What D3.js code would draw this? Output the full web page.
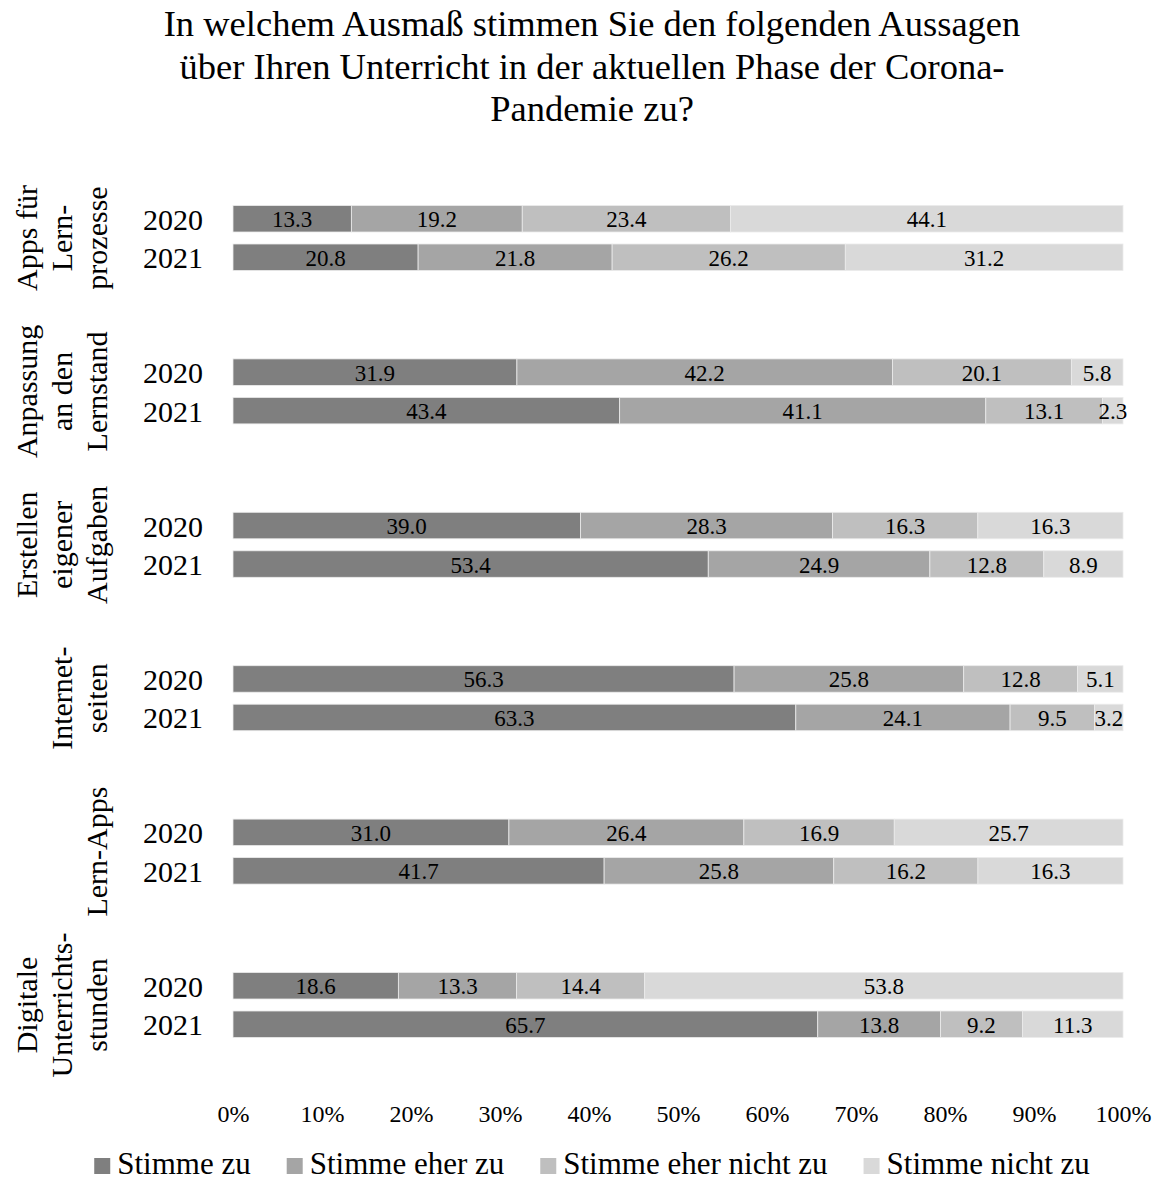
<!DOCTYPE html>
<html>
<head>
<meta charset="utf-8">
<script src="https://cdn.jsdelivr.net/npm/d3@7/dist/d3.min.js"></script>
<style>
  html, body { margin: 0; padding: 0; background: #fff; }
  svg { display: block; font-family: "Liberation Serif", "Times New Roman", serif; }
</style>
</head>
<body>
<svg id="chart" width="1162" height="1182"></svg>
<script>
// Survey items (each label split into its wrapped lines)
const categories = [
  ["Apps für", "Lern-", "prozesse"],
  ["Anpassung", "an den", "Lernstand"],
  ["Erstellen", "eigener", "Aufgaben"],
  ["Internet-", "seiten"],
  ["Lern-Apps"],
  ["Digitale", "Unterrichts-", "stunden"]
];
const years = ["2020", "2021"];
const seriesNames = ["Stimme zu", "Stimme eher zu", "Stimme eher nicht zu", "Stimme nicht zu"];

// Shares in percent per answer, one row per item and year
const values2020 = [
  [13.3, 19.2, 23.4, 44.1],
  [31.9, 42.2, 20.1, 5.8],
  [39.0, 28.3, 16.3, 16.3],
  [56.3, 25.8, 12.8, 5.1],
  [31.0, 26.4, 16.9, 25.7],
  [18.6, 13.3, 14.4, 53.8]
];
const values2021 = [
  [20.8, 21.8, 26.2, 31.2],
  [43.4, 41.1, 13.1, 2.3],
  [53.4, 24.9, 12.8, 8.9],
  [63.3, 24.1, 9.5, 3.2],
  [41.7, 25.8, 16.2, 16.3],
  [65.7, 13.8, 9.2, 11.3]
];
const tickValues = [0, 0.1, 0.2, 0.3, 0.4, 0.5, 0.6, 0.7, 0.8, 0.9, 1.0];
const titleLines = [
  "In welchem Ausmaß stimmen Sie den folgenden Aussagen",
  "über Ihren Unterricht in der aktuellen Phase der Corona-",
  "Pandemie zu?"
];
const colors = ["#7f7f7f", "#a5a5a5", "#bfbfbf", "#d9d9d9"];

const svg = d3.select("#chart");

// Flat table for the stack layout
const rows = [];
categories.forEach((c, i) => {
  [values2020, values2021].forEach((vals, j) => {
    const r = { cat: i, year: years[j] };
    seriesNames.forEach((s, k) => r[s] = vals[i][k]);
    rows.push(r);
  });
});

const stack = d3.stack().keys(seriesNames).offset(d3.stackOffsetExpand);
const stacked = stack(rows);

const x = d3.scaleLinear().domain([0, 1]).range([233, 1123]);
const yGroup = d3.scaleBand().domain(d3.range(categories.length)).range([161.3, 1081.7]);
const yInner = d3.scaleBand().domain(years).range([-38.5, 38.5]).paddingInner(0.312).paddingOuter(0.156);
const groupCenter = i => yGroup(i) + yGroup.bandwidth() / 2;
const barY = d => groupCenter(d.data.cat) + yInner(d.data.year);

// Title
svg.append("g").selectAll("text").data(titleLines).join("text")
  .attr("x", 592).attr("y", (d, i) => 36 + i * 42.5)
  .attr("text-anchor", "middle").attr("font-size", 36.5).attr("fill", "#000")
  .text(d => d);

// Stacked bars
const layers = svg.append("g").selectAll("g").data(stacked).join("g")
  .attr("fill", (d, i) => colors[i]);
layers.selectAll("rect").data(d => d).join("rect")
  .attr("x", d => x(d[0]))
  .attr("width", d => x(d[1]) - x(d[0]))
  .attr("y", barY)
  .attr("height", yInner.bandwidth())
  .attr("stroke", "#ebebeb").attr("stroke-width", 0.8);

// Value labels centered in each segment
stacked.forEach((layer, k) => {
  svg.append("g").selectAll("text").data(layer).join("text")
    .attr("x", d => (x(d[0]) + x(d[1])) / 2)
    .attr("y", d => barY(d) + yInner.bandwidth() / 2 + 8.5)
    .attr("text-anchor", "middle").attr("font-size", 23).attr("fill", "#000")
    .text(d => d.data[seriesNames[k]].toFixed(1));
});

// Year labels
svg.append("g").selectAll("text").data(rows).join("text")
  .attr("x", 203)
  .attr("y", d => groupCenter(d.cat) + yInner(d.year) + yInner.bandwidth() / 2 + 11)
  .attr("text-anchor", "end").attr("font-size", 30).attr("fill", "#000")
  .text(d => d.year);

// Rotated item labels, lines stacked right to left
categories.forEach((lines, i) => {
  const n = lines.length;
  svg.append("g").selectAll("text").data(lines).join("text")
    .attr("transform", (d, j) => `translate(${107 - (n - 1 - j) * 35},${groupCenter(i)}) rotate(-90)`)
    .attr("text-anchor", "middle").attr("font-size", 30).attr("fill", "#000")
    .text(d => d);
});

// Percent axis (labels only)
const axis = d3.axisBottom(x).tickValues(tickValues).tickFormat(d3.format(".0%")).tickSize(0).tickPadding(0);
const axisG = svg.append("g").attr("transform", "translate(0,1100)").call(axis);
axisG.select(".domain").remove();
axisG.selectAll("text")
  .attr("font-family", "Liberation Serif, Times New Roman, serif")
  .attr("font-size", 24).attr("fill", "#000").attr("dy", 22);

// Legend
const legend = svg.append("g");
const items = legend.selectAll("g").data(seriesNames).join("g");
items.append("rect").attr("width", 16).attr("height", 16).attr("y", 1158)
  .attr("fill", (d, i) => colors[i]);
items.append("text").attr("x", 23).attr("y", 1174)
  .attr("font-size", 31).attr("fill", "#000").text(d => d);
let widths = [];
items.each(function() { widths.push(23 + this.querySelector("text").getComputedTextLength()); });
const gap = 36;
const total = d3.sum(widths) + gap * (widths.length - 1);
let cx = 592 - total / 2;
items.each(function(d, i) {
  d3.select(this).attr("transform", `translate(${cx},0)`);
  cx += widths[i] + gap;
});
</script>
</body>
</html>
